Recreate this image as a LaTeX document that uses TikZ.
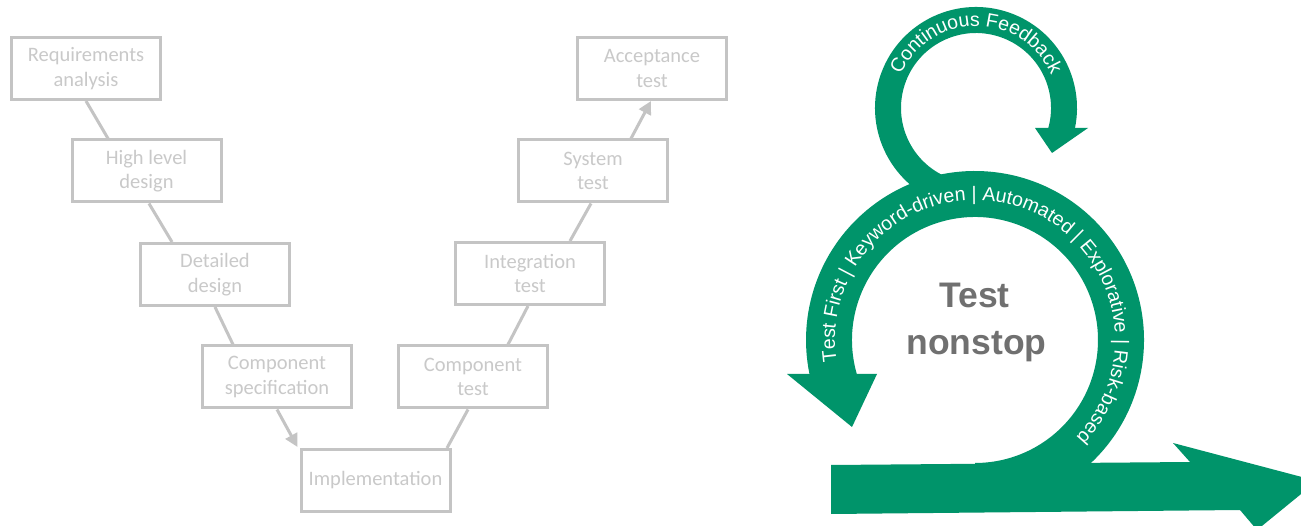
\documentclass[tikz,border=0pt]{standalone}
\usepackage{fontspec}
\newfontfamily\vfont{Carlito}
\newfontfamily\afont{Liberation Sans}
\usetikzlibrary{arrows.meta,decorations.text,calc}
\definecolor{vgray}{HTML}{C4C4C4}
\definecolor{vtext}{HTML}{C9C9C9}
\definecolor{tgreen}{HTML}{00946A}
\definecolor{tgray}{HTML}{707070}
\newcommand{\ringfont}{\afont\fontsize{19.5}{22}\selectfont}
\begin{document}
\begin{tikzpicture}[x=1pt,y=1pt,
  vbox/.style={draw=vgray, line width=3pt, minimum width=149pt, minimum height=62pt,
    inner sep=0pt, align=center, text=vtext, font=\vfont\fontsize{20.5}{24.5}\selectfont},
  vline/.style={draw=vgray, line width=3pt},
  varrow/.style={vline, -{Triangle[length=13pt,width=13pt]}},
  band/.style={fill=tgreen},
  ringtext/.style={decorate, decoration={text along path, text align=center, text color=white}},
  bigtitle/.style={text=tgray, font=\afont\bfseries\fontsize{35.5}{40}\selectfont, inner sep=0pt, anchor=base}]
\useasboundingbox (0,0) rectangle (1301,525);
\fill[white] (0,0) rectangle (1301,525);

% V-model
\node[vbox] (req)  at (86,456.5)  {Requirements\\analysis};
\node[vbox] (hl)   at (146.5,354) {High level\\design};
\node[vbox] (dd)   at (215,250.5) {Detailed\\design};
\node[vbox] (cs)   at (277,148)   {Component\\specification};
\node[vbox] (impl) at (375.5,44.5){Implementation};
\node[vbox] (ct)   at (473,148)   {Component\\test};
\node[vbox] (it)   at (530,251.5) {Integration\\test};
\node[vbox] (st)   at (593,354)   {System\\test};
\node[vbox] (acc)  at (652,456.5) {Acceptance\\test};

\draw[vline] (req.south) -- ([xshift=-38.5pt]hl.north);
\draw[vline] ([xshift=2.5pt]hl.south) -- ([xshift=-43pt]dd.north);
\draw[vline] (dd.south) -- ([xshift=-44pt]cs.north);
\draw[varrow] (cs.south) -- ([xshift=-2pt,yshift=1pt]impl.north west);
\draw[vline] ([xshift=71.5pt]impl.north) -- ([xshift=-5pt]ct.south);
\draw[vline] ([xshift=35pt]ct.north) -- ([xshift=-2pt]it.south);
\draw[vline] ([xshift=40pt]it.north) -- ([xshift=-2pt]st.south);
\draw[varrow] ([xshift=38pt]st.north) -- ([xshift=-1pt]acc.south);

% Test nonstop
\coordinate (C) at (975,185);
\coordinate (c) at (976,417);
% small loop
\fill[band] ($(c)+(250:101pt)$) arc[start angle=250, end angle=-11.4, radius=101pt]
  -- ($(c)+(-15.5:75pt)$) arc[start angle=-15.5, end angle=250, radius=75pt] -- cycle;
\fill[band] (1035,397) -- (1088,397) -- (1052,372) -- cycle;
% big loop
\fill[band] ($(C)+(-50:169pt)$) arc[start angle=-50, end angle=191.6, radius=169pt]
  -- ($(C)+(196.05:123pt)$) arc[start angle=196.05, end angle=-90, radius=123pt]
  -- (975,50) -- (1084,50) -- cycle;
\fill[band] (787,151) -- (877,151) -- (852,98) -- cycle;
% bar arrow
\fill[band] (831,60) -- (1190,63) -- (1173,82) -- (1317,44) -- (1257,-5) -- (1240,15) -- (831,11) -- cycle;

\path[ringtext, decoration={text={|\ringfont|Continuous Feedback}}]
  ($(c)+(180:82pt)$) arc[start angle=180, end angle=0, radius=82pt];
\path[ringtext, decoration={text={|\ringfont|Test First {|} Keyword-driven {|} Automated {|} Explorative {|} Risk-based}}]
  ($(C)+(222.5:140pt)$) arc[start angle=222.5, end angle=-77.5, radius=140pt];

\node[bigtitle] (tn1) at (974.5,217.3) {Test};
\node[bigtitle] (tn2) at (976.5,170) {nonstop};
\end{tikzpicture}
\end{document}
